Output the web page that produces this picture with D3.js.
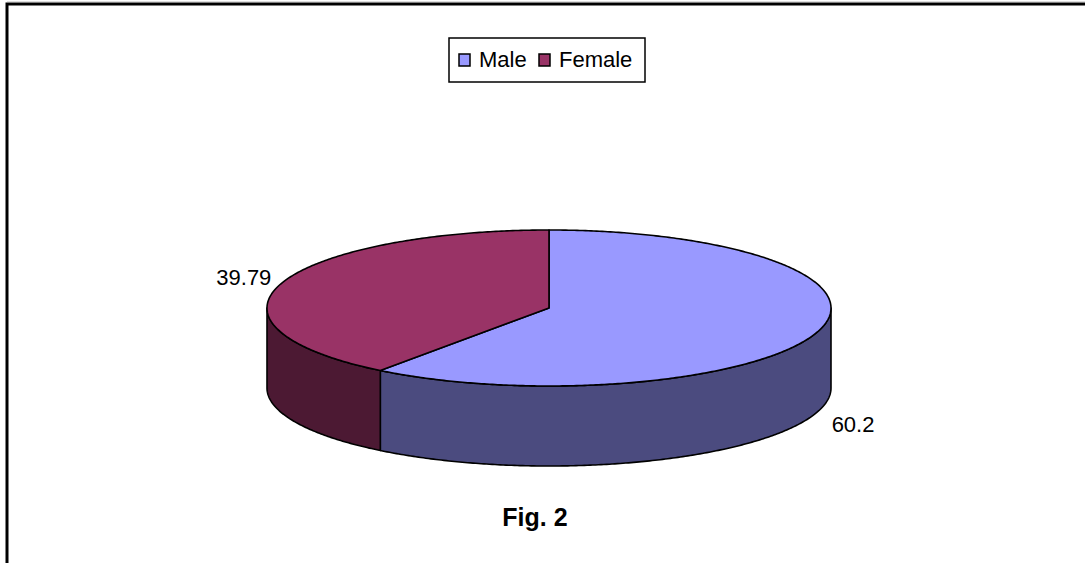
<!DOCTYPE html>
<html>
<head>
<meta charset="utf-8">
<script src="https://cdn.jsdelivr.net/npm/d3@7"></script>
<style>
  html, body { margin: 0; padding: 0; background: #fff; }
  svg { display: block; }
  text { font-family: Arial, "Liberation Sans", sans-serif; fill: #000; }
</style>
</head>
<body>
<svg id="chart" width="1085" height="563"></svg>
<script>
// Gender split (percent)
const categories = ["Male", "Female"];
const values = [60.2, 39.79];
const valueLabels = ["60.2", "39.79"];
const topColors = ["#9999FF", "#993366"];
const sideColors = ["#4B4B7F", "#4C1933"];
const title = "Fig. 2";

const W = 1085, H = 563;
const svg = d3.select("#chart");

// outer frame (left and top edges)
svg.append("path")
  .attr("d", `M7,${H} V4 H${W}`)
  .attr("fill", "none").attr("stroke", "#000").attr("stroke-width", 3);
svg.append("line").attr("x1", 7).attr("x2", W).attr("y1", 1.5).attr("y2", 1.5)
  .attr("stroke", "#ddd").attr("stroke-width", 1);

// 3D pie geometry
const cx = 549, cy = 308, rx = 282, ry = 78, depth = 80;
const px = a => cx + rx * Math.sin(a);
const py = a => cy - ry * Math.cos(a);

const pie = d3.pie().sort(null).value(d => d)
  .startAngle(0).endAngle(2 * Math.PI);
const arcs = pie(values);

const line = d3.line();
function arcPoints(a0, a1, dy) {
  const n = Math.max(2, Math.ceil(Math.abs(a1 - a0) / 0.01));
  return d3.range(n + 1).map(i => {
    const a = a0 + (a1 - a0) * i / n;
    return [px(a), py(a) + dy];
  });
}

const g = svg.append("g");

// side walls: only the front half (angles between 90° and 270°) is visible
arcs.forEach((d, i) => {
  const a0 = Math.max(d.startAngle, Math.PI / 2);
  const a1 = Math.min(d.endAngle, 3 * Math.PI / 2);
  if (a1 <= a0) return;
  const pts = arcPoints(a0, a1, 0).concat(arcPoints(a1, a0, depth));
  g.append("path")
    .attr("d", line(pts) + "Z")
    .attr("fill", sideColors[i])
    .attr("stroke", "#000").attr("stroke-width", 1.6)
    .attr("stroke-linejoin", "round");
});

// top faces
arcs.forEach((d, i) => {
  const pts = [[cx, cy]].concat(arcPoints(d.startAngle, d.endAngle, 0));
  g.append("path")
    .attr("d", line(pts) + "Z")
    .attr("fill", topColors[i])
    .attr("stroke", "#000").attr("stroke-width", 1.6)
    .attr("stroke-linejoin", "round");
});

// value labels outside each slice
arcs.forEach((d, i) => {
  const a = (d.startAngle + d.endAngle) / 2;
  const front = Math.cos(a) < 0;
  const right = Math.sin(a) > 0;
  svg.append("text")
    .attr("x", px(a) + (right ? 15 : -10))
    .attr("y", py(a) + (front ? depth + 19 : 2))
    .attr("text-anchor", right ? "start" : "end")
    .attr("font-size", 22)
    .text(valueLabels[i]);
});

// legend
const legend = svg.append("g");
legend.append("rect")
  .attr("x", 449).attr("y", 38).attr("width", 196).attr("height", 44)
  .attr("fill", "#fff").attr("stroke", "#000").attr("stroke-width", 1.5);
const legendX = [459, 539];
categories.forEach((c, i) => {
  legend.append("rect")
    .attr("x", legendX[i]).attr("y", 54).attr("width", 11).attr("height", 12)
    .attr("fill", topColors[i]).attr("stroke", "#000").attr("stroke-width", 1.5);
  legend.append("text")
    .attr("x", legendX[i] + 20).attr("y", 67)
    .attr("font-size", 22)
    .text(c);
});

// caption
svg.append("text")
  .attr("x", 535).attr("y", 526)
  .attr("text-anchor", "middle")
  .attr("font-size", 25).attr("font-weight", "bold")
  .text(title);
</script>
</body>
</html>
